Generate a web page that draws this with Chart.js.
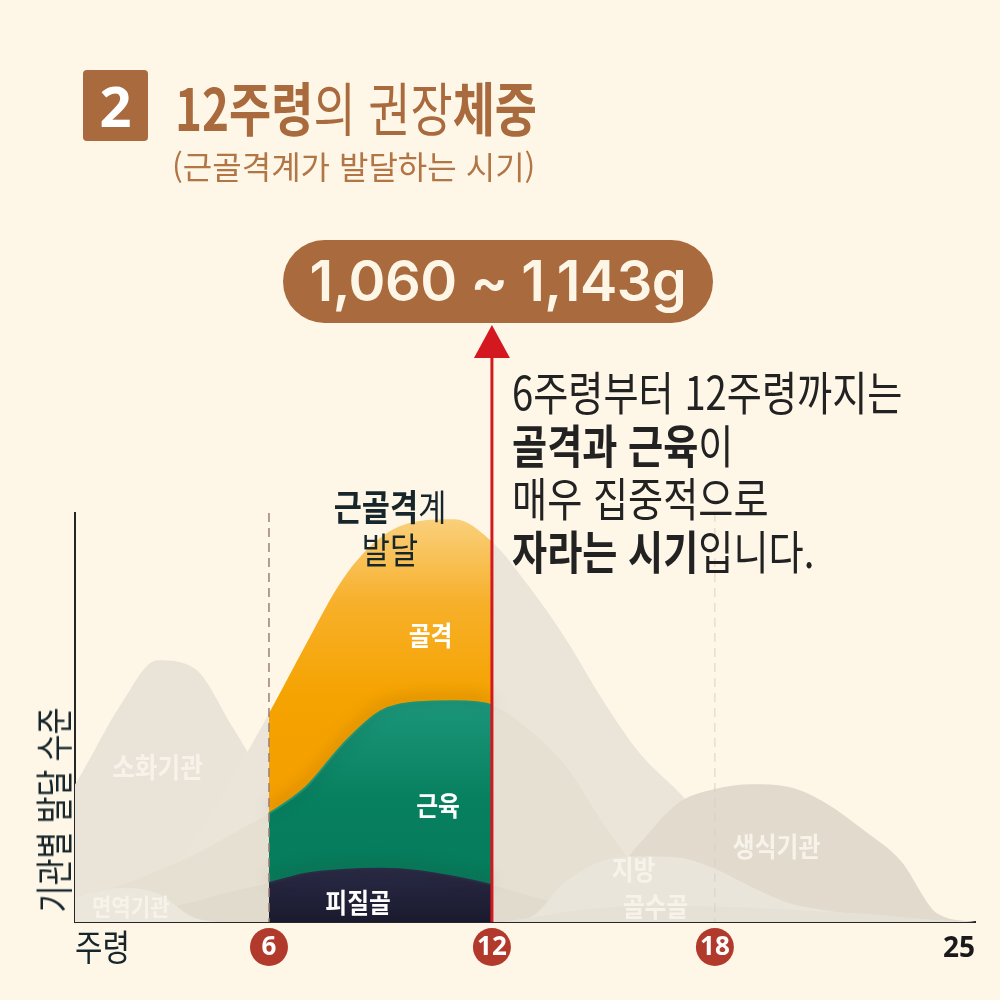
<!DOCTYPE html>
<html lang="ko">
<head>
<meta charset="utf-8">
<title>12주령의 권장체중</title>
<script src="https://cdn.jsdelivr.net/npm/chart.js@4.4.1/dist/chart.umd.min.js"></script>
<style>
  html, body { margin: 0; padding: 0; background: #FEF7E8; }
  #wrap { position: relative; width: 1000px; height: 1000px; overflow: hidden;
          font-family: 'Noto Sans CJK KR', 'Noto Sans', sans-serif; }
  #chart { position: absolute; left: 0; top: 0; }
  .abs { position: absolute; white-space: nowrap; }
  .cn { display: inline-block; transform-origin: left center; }
  #num { left: 83px; top: 70px; width: 65px; height: 71px; background: #A96A3E; border-radius: 4px;
         color: #fff; font: 700 56px 'Noto Sans', sans-serif; text-align: center; line-height: 71px; }
  #title { left: 175px; top: 74px; font-size: 58px; line-height: 64px; color: #A96A3E; }
  #title .cn { transform: scaleX(0.79); }
  #title b { font-weight: 700; }
  #title span.r { font-weight: 400; }
  #sub { left: 172px; top: 145px; font-size: 32px; line-height: 40px; color: #B27546; }
  #pill { left: 283px; top: 240px; width: 430px; height: 83px; border-radius: 42px; background: #A96A3E;
          color: #FDF6E6; font: 600 56px 'Inter', 'Noto Sans', sans-serif; text-align: center; line-height: 83px;
          letter-spacing: -0.5px; }
  #desc { left: 512px; top: 364px; font-size: 46px; line-height: 53px; color: #222; }
  #desc .cn { transform: scaleX(0.83); display: block; }
  #desc b { font-weight: 700; }
  #msk { left: 390px; top: 484px; font-size: 36px; line-height: 43px; color: #17262A; text-align: center;
         transform: translateX(-50%); }
  #msk .cn { transform: scaleX(0.85); transform-origin: center center; display: block; }
  #msk b { font-weight: 700; }
  #ytitle { left: 52px; top: 810px; font-size: 38px; line-height: 40px; color: #17262A;
            transform: translate(-50%, -50%) rotate(-90deg) scaleX(0.77); }
  #xtitle { left: 75px; top: 924px; font-size: 36px; line-height: 42px; color: #17262A; }
  #xtitle .cn { transform: scaleX(0.83); }
</style>
</head>
<body>
<div id="wrap">
  <canvas id="chart" width="1000" height="1000"></canvas>
  <div class="abs" id="num">2</div>
  <div class="abs" id="title"><span class="cn"><b>12주령</b><span class="r">의 권장</span><b>체중</b></span></div>
  <div class="abs" id="sub"><span class="cn">(근골격계가 발달하는 시기)</span></div>
  <div class="abs" id="pill">1,060 ~ 1,143g</div>
  <div class="abs" id="desc">
    <span class="cn">6주령부터 12주령까지는</span>
    <span class="cn"><b>골격과 근육</b>이</span>
    <span class="cn">매우 집중적으로</span>
    <span class="cn"><b>자라는 시기</b>입니다.</span>
  </div>
  <div class="abs" id="msk">
    <span class="cn"><b>근골격</b>계</span>
    <span class="cn">발달</span>
  </div>
  <div class="abs" id="ytitle">기관별 발달 수준</div>
  <div class="abs" id="xtitle"><span class="cn">주령</span></div>
</div>
<script>
// weeks on the x axis
const weeks = [0, 1, 2, 3, 4, 5, 6, 7, 8, 9, 10, 11, 12, 13, 14, 15, 16, 17, 18, 19, 20, 21, 22, 23, 24, 25];
const tickWeeks = [6, 12, 18, 25];
const circledWeeks = [6, 12, 18];
const highlightFrom = 6;
const highlightTo = 12;

// development level per organ (0-100)
const digestive    = [22, 37, 53, 64, 62, 48, 33, 20, 10, 4, 1, 0, 0, 0, 0, 0, 0, 0, 0, 0, 0, 0, 0, 0, 0, 0];
const skeleton     = [0, 1, 4, 10, 20, 35, 51, 68, 84, 94, 98, 98.5, 93, 82, 69, 54, 41, 32, 22, 14, 8, 4, 2, 1, 0, 0];
const muscle       = [5, 6.5, 9, 12.5, 16.5, 21.5, 26.5, 33, 43.5, 51.5, 53.7, 54, 53, 47, 38, 24, 12, 5, 2, 0.5, 0, 0, 0, 0, 0, 0];
const cortical     = [0, 0.5, 1.5, 3, 5, 7.5, 9.5, 11.8, 12.7, 13, 12.5, 11, 9, 6.5, 4, 2, 0.5, 0, 0, 0, 0, 0, 0, 0, 0, 0];
const immune       = [4.5, 6.5, 8.3, 7, 1, 0, 0, 0, 0, 0, 0, 0, 0, 0, 0, 0, 0, 0, 0, 0, 0, 0, 0, 0, 0, 0];
const reproductive = [0, 0, 0, 0, 0, 0, 0, 0, 0, 0, 0, 0, 0, 0.5, 3, 9, 19.5, 29, 32.5, 33.7, 33, 29, 22.5, 15, 2, 0];
const fat          = [0, 0, 0, 0, 0, 0, 0, 0, 0, 0, 0, 0, 0, 1, 10, 15, 16, 15.8, 13, 8.5, 4.6, 2.8, 1.5, 0.5, 0, 0];
const marrow       = [0, 0, 0, 0, 0, 0, 0, 0, 0, 0, 0, 0, 0, 1, 2.5, 3.5, 4, 4, 3.8, 3.5, 3, 2.5, 2, 1.2, 0.5, 0];

const regionLabels = [
  { text: '골격', week: 10.35, level: 70, size: 27, color: '#FFFFFF' },
  { text: '근육', week: 10.55, level: 28.4, size: 27, color: '#FFFFFF' },
  { text: '피질골', week: 8.4, level: 4.6, size: 27, color: '#FFFFFF' },
  { text: '소화기관', week: 3.0, level: 37.7, size: 28, color: '#F7F3EA' },
  { text: '면역기관', week: 2.28, level: 3.7, size: 24, color: '#F7F3EA' },
  { text: '지방', week: 15.81, level: 12.7, size: 27, color: '#F7F3EA' },
  { text: '골수골', week: 16.4, level: 3.7, size: 27, color: '#F7F3EA' },
  { text: '생식기관', week: 19.66, level: 18.3, size: 27, color: '#F7F3EA' }
];

const fontKR = "'Noto Sans CJK KR', 'Noto Sans', sans-serif";
Chart.defaults.font.family = fontKR;

// one gradient per series, so the highlighted segments stay one fill
const gradCache = {};
function vGrad(chart, key, stops, fallback) {
  const { ctx, chartArea } = chart;
  if (!chartArea) return fallback;
  const sig = chartArea.top + ':' + chartArea.bottom;
  if (!gradCache[key] || gradCache[key].sig !== sig) {
    const g = ctx.createLinearGradient(0, chartArea.top, 0, chartArea.bottom);
    stops.forEach(s => g.addColorStop(s[0], s[1]));
    gradCache[key] = { sig: sig, g: g };
  }
  return gradCache[key].g;
}

function inHighlight(c) {
  return c.p0.parsed.x >= highlightFrom && c.p1.parsed.x <= highlightTo;
}

function area(label, data, gray, hl) {
  const ds = {
    label: label,
    data: data.map((v, i) => ({ x: weeks[i], y: v })),
    backgroundColor: gray,
    borderColor: 'transparent',
    borderWidth: 0,
    fill: 'origin',
    pointRadius: 0,
    cubicInterpolationMode: 'monotone'
  };
  if (hl) {
    ds.borderWidth = hl.edge ? 2 : 0;
    ds.segment = {
      backgroundColor: c => inHighlight(c) ? vGrad(c.chart, label, hl.stops, hl.stops[0][1]) : undefined,
      borderColor: c => (inHighlight(c) && hl.edge) ? hl.edge : undefined
    };
  }
  return ds;
}

// back to front
const layers = [
  area('소화기관', digestive, '#EAE4D8'),
  area('골격', skeleton, '#EBE5D9', {
    stops: [[0, '#FAD282'], [0.22, '#F7B02A'], [0.45, '#F5A300'], [1, '#F39B00']]
  }),
  area('근육', muscle, '#E6E0D3', {
    edge: '#1A9479',
    stops: [[0, '#2AA187'], [0.45, '#1D977B'], [0.7, '#07805F'], [1, '#057A5B']]
  }),
  area('피질골', cortical, '#E1DBCE', {
    edge: '#2A2B47',
    stops: [[0, '#2C2D4A'], [0.86, '#2A2B47'], [1, '#1A1A2E']]
  }),
  area('면역기관', immune, '#ECE7DC'),
  area('생식기관', reproductive, '#E1DACD'),
  area('지방', fat, '#EAE5DA'),
  area('골수골', marrow, '#E6E1D6')
];
layers.forEach((d, i) => { d.order = layers.length - i; });
const shadowed = ['근육', '피질골'];

const decor = {
  id: 'decor',
  beforeDraw(chart) {
    const { ctx, chartArea, scales: { x } } = chart;
    ctx.save();
    ctx.fillStyle = '#B23A2C';
    circledWeeks.forEach(w => {
      ctx.beginPath();
      ctx.arc(x.getPixelForValue(w), chartArea.bottom + 25, 19, 0, Math.PI * 2);
      ctx.fill();
    });
    ctx.restore();
  },
  beforeDatasetDraw(chart, args) {
    if (shadowed.includes(chart.data.datasets[args.index].label)) {
      const ctx = chart.ctx;
      ctx.save();
      ctx.shadowColor = 'rgba(60, 30, 0, 0.55)';
      ctx.shadowBlur = 14;
      ctx.shadowOffsetY = -4;
    }
  },
  afterDatasetDraw(chart, args) {
    if (shadowed.includes(chart.data.datasets[args.index].label)) chart.ctx.restore();
  },
  afterDatasetsDraw(chart) {
    const { ctx, chartArea, scales: { x, y } } = chart;
    ctx.save();
    // guide lines
    ctx.setLineDash([9, 6]);
    ctx.lineWidth = 1.5;
    ctx.strokeStyle = '#9E7E76';
    let gx = x.getPixelForValue(6);
    ctx.beginPath(); ctx.moveTo(gx, chartArea.top); ctx.lineTo(gx, chartArea.bottom); ctx.stroke();
    ctx.lineWidth = 1;
    ctx.strokeStyle = '#D8D1C6';
    gx = x.getPixelForValue(18);
    ctx.beginPath(); ctx.moveTo(gx, chartArea.top); ctx.lineTo(gx, chartArea.bottom); ctx.stroke();
    ctx.setLineDash([]);

    // region labels
    regionLabels.forEach(l => {
      ctx.save();
      ctx.translate(x.getPixelForValue(l.week), y.getPixelForValue(l.level));
      ctx.scale(0.88, 1);
      ctx.font = `700 ${l.size}px ${fontKR}`;
      ctx.fillStyle = l.color;
      ctx.textAlign = 'center';
      ctx.textBaseline = 'middle';
      ctx.fillText(l.text, 0, 0);
      ctx.restore();
    });

    // red arrow at week 12
    const ax = x.getPixelForValue(12);
    ctx.strokeStyle = '#D3191F';
    ctx.fillStyle = '#D3191F';
    ctx.lineWidth = 3;
    ctx.beginPath(); ctx.moveTo(ax, chartArea.bottom); ctx.lineTo(ax, 356); ctx.stroke();
    ctx.beginPath(); ctx.moveTo(ax, 325); ctx.lineTo(ax + 18, 358); ctx.lineTo(ax - 18, 358); ctx.closePath(); ctx.fill();
    ctx.restore();
  }
};

const xMin = 0.78;
const tickValue = c => (c && c.tick) ? c.tick.value : null;

new Chart(document.getElementById('chart'), {
  type: 'line',
  data: { datasets: layers },
  options: {
    responsive: false,
    animation: false,
    events: [],
    layout: { padding: { left: 75, right: 25, top: 513, bottom: 18 } },
    plugins: { legend: { display: false }, tooltip: { enabled: false } },
    scales: {
      x: {
        type: 'linear',
        min: xMin,
        max: 25,
        afterBuildTicks: s => { s.ticks = [xMin].concat(tickWeeks).map(v => ({ value: v })); },
        afterFit: s => { s.height = 60; },
        grid: { display: false, drawTicks: false },
        border: { display: true, color: '#262626', width: 2 },
        ticks: {
          autoSkip: false,
          maxRotation: 0,
          align: 'inner',
          padding: 10,
          callback: v => tickWeeks.includes(v) ? String(v) : '',
          color: c => circledWeeks.includes(tickValue(c)) ? '#FFFFFF' : '#1A1A1A',
          font: c => ({ size: circledWeeks.includes(tickValue(c)) ? 26 : 28, weight: 'bold', family: "'Noto Sans', sans-serif" })
        }
      },
      y: {
        min: 0,
        max: 100,
        afterFit: s => { s.width = 0; },
        grid: { display: false, drawTicks: false },
        border: { display: true, color: '#262626', width: 2 },
        ticks: { display: false }
      }
    }
  },
  plugins: [decor]
});
</script>
</body>
</html>
